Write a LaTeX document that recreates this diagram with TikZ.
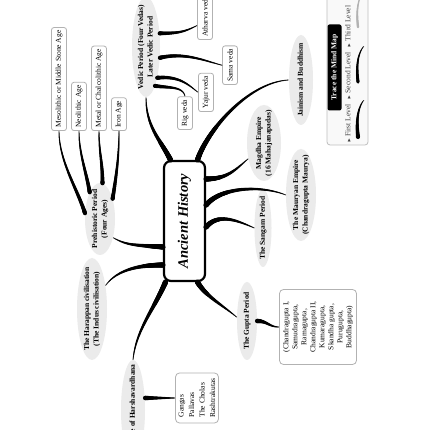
\documentclass[tikz,border=0pt]{standalone}
\usepackage{fontspec}
\setmainfont{Liberation Serif}
\usepackage{amssymb}
\usetikzlibrary{shapes.geometric,decorations.markings}
\newcommand{\ztext}[1]{\makebox[0pt]{\begin{tabular}{@{}c@{}}#1\end{tabular}}}
\newcommand{\lvl}{\scalebox{0.6}{$\blacktriangleright$}}
\tikzset{taper/.style={postaction={decorate, decoration={markings, mark=between positions 0 and 1 step 0.5pt with {\pgfmathsetmacro{\tw}{#1*(1-\pgfkeysvalueof{/pgf/decoration/mark info/distance from start}/\pgfdecoratedpathlength)+0.45}\fill (0,0) circle[radius=\tw pt];}}}}}
\begin{document}
\begin{tikzpicture}[x=1pt, y=1pt,
	period/.style={shape=ellipse, fill=gray!16, inner sep=0pt, rotate=90, font=\bfseries\fontsize{7.5}{9.5}\selectfont},
	item/.style={shape=rectangle, draw=gray!60, fill=white, line width=0.8pt, rounded corners=2.5pt, rotate=90, inner xsep=3pt, inner ysep=1pt, minimum height=15pt, font=\fontsize{7.5}{9}\selectfont}]
	\useasboundingbox (0,0) rectangle (430,430);
	\clip (0,0) rectangle (430,430);
	\fill[white] (0,0) rectangle (430,430);
	% Legend:
	\draw[gray!50, fill=gray!5, rounded corners=3pt, line width=0.8pt] (327,440) rectangle (368,285);
	\node[shape=rectangle, fill=black, text=white, rounded corners=2pt, rotate=90, minimum width=86pt, minimum height=14pt, inner sep=0pt, font=\bfseries\fontsize{7.5}{9}\selectfont] (trace) at (334.5,362.5) {Trace the Mind Map\hspace{10pt}};
	\node[rotate=90, anchor=west, inner sep=0pt, text=black!75, font=\fontsize{7.5}{9}\selectfont] (levels) at (348,287) {\lvl\ First Level\hspace{5pt}\lvl\ Second Level\hspace{5pt}\lvl\ Third Level};
	\path[taper=1.6] (358,293) .. controls (356,310) and (358,323) .. (364,330);
	\path[taper=1.2] (358,348) .. controls (356,365) and (358,377) .. (364,384);
	\path[taper=0.8, color=gray!60] (358,403) .. controls (356,420) and (358,432) .. (364,439);
	% Paths, nodes and wires:
	\node[shape=rectangle, draw, line width=2.2pt, rounded corners=7pt, rotate=90, minimum width=120pt, minimum height=41pt, font=\bfseries\itshape\fontsize{14.5}{17}\selectfont] (hist) at (184.5,209) {Ancient History};
	\node[period, minimum width=100pt, minimum height=28pt] (vedic) at (146,383) {\ztext{Vedic Period (Four Vedas)\\Later Vedic Period}};
	\node[period, minimum width=90pt, minimum height=24pt] (jain) at (301,350) {\ztext{Jainism and Buddhism}};
	\node[period, minimum width=76pt, minimum height=34pt] (magadha) at (264,287) {\ztext{Magdha Empire\\(16 Mahajanapadas)}};
	\node[period, minimum width=92pt, minimum height=30pt] (maurya) at (301,235) {\ztext{The Mauryan Empire\\(Chandragupta Maurya)}};
	\node[period, minimum width=78pt, minimum height=17pt] (sangam) at (263,202) {\ztext{The Sangam Period}};
	\node[period, minimum width=78pt, minimum height=20pt] (gupta) at (247,109) {\ztext{The Gupta Period}};
	\node[period, minimum width=100pt, minimum height=24pt] (harsha) at (133,20) {\ztext{The Age of Harshavardhana}};
	\node[period, minimum width=102pt, minimum height=30pt] (harappa) at (92,121) {\ztext{The Harappan civilisation\\(The Indus civilisation)}};
	\node[period, minimum width=72pt, minimum height=30pt] (prehist) at (100,211) {\ztext{Prehistoric Period\\(Four Ages)}};
	\node[item, anchor=west] (rig) at (185,300) {Rig veda};
	\node[item, anchor=west] (yajur) at (206,318) {Yajur veda};
	\node[item, anchor=west] (sama) at (230,345) {Sama veda};
	\node[item, anchor=west] (atharva) at (205,390) {Atharva veda};
	\node[item, anchor=west] (meso) at (59,299) {Mesolithic or Middle Stone Age};
	\node[item, anchor=west] (neo) at (79,299) {Neolithic Age};
	\node[item, anchor=west] (metal) at (99,299) {Metal or Chalcolithic Age};
	\node[item, anchor=west] (iron) at (119,299) {Iron Age};
	\node[item, align=center, rounded corners=4pt, inner sep=3pt, minimum width=75pt, minimum height=77pt] (guptalist) at (318,103) {(Chandragupta I,\\Samudragupta,\\Ramagupta,\\Chandragupta II,\\Kumaragupta,\\Skandha gupta,\\Purugupta,\\Buddhagupta)};
	\node[item, align=left, rounded corners=4pt, inner sep=3pt, minimum width=50pt, minimum height=43pt, font=\fontsize{7.5}{10.5}\selectfont] (harshalist) at (197,32) {Gangas\\Pallavas\\The Cholas\\Rashtrakutas};
	% Branches from the centre:
	\path[taper=2.2] ([xshift=-14pt]hist.east) .. controls +(-10,20) and +(0,-30) .. (vedic.west);
	\path[taper=2.2] ([xshift=13pt]hist.east) .. controls +(10,30) and +(-40,-2) .. (jain.north);
	\path[taper=2.2] ([yshift=42pt]hist.south) .. controls +(22,0) and +(-12,-10) .. (magadha.135);
	\path[taper=2.2] ([yshift=16pt]hist.south) .. controls +(15,18) and +(-25,10) .. (maurya.north);
	\path[taper=2.2] ([yshift=-6pt]hist.south) .. controls +(12,14) and +(-18,8) .. (sangam.north);
	\path[taper=2.2] ([xshift=13pt]hist.west) .. controls +(8,-14) and +(-14,12) .. (gupta.70);
	\path[taper=2.2] ([xshift=-19pt]hist.west) .. controls +(-12,-28) and +(3,30) .. (harsha.east);
	\path[taper=2.2] ([yshift=-44pt]hist.north) .. controls +(-28,0) and +(10,14) .. (harappa.-30);
	\path[taper=2.2] ([yshift=-26pt]hist.north) .. controls +(-28,2) and +(14,-8) .. (prehist.-145);
	% Branches to the second level:
	\path[taper=1.6] (vedic.-167) .. controls +(14,-2) and +(-2,10) .. (rig.east);
	\path[taper=1.6] (vedic.-160) .. controls +(22,2) and +(-10,8) .. (yajur.north);
	\path[taper=1.6] (vedic.-128) .. controls +(25,6) and +(-16,4) .. (sama.north);
	\path[taper=1.6] (vedic.-45) .. controls +(20,0) and +(-12,-6) .. ([yshift=-9pt]atharva.north);
	\path[taper=1.6] (prehist.69) .. controls +(-8,25) and +(0,-30) .. (meso.west);
	\path[taper=1.6] (prehist.21) .. controls +(-4,22) and +(0,-22) .. (neo.west);
	\path[taper=1.6] (prehist.-4) .. controls +(0,22) and +(0,-22) .. (metal.west);
	\path[taper=1.6] (prehist.-32) .. controls +(4,25) and +(0,-25) .. (iron.west);
	\path[taper=1.8] (gupta.south) .. controls +(10,0) and +(-10,0) .. (guptalist.north);
	\path[taper=1.8] ([yshift=12pt]harsha.south) .. controls +(12,0) and +(-12,0) .. (harshalist.north);
\end{tikzpicture}
\end{document}
